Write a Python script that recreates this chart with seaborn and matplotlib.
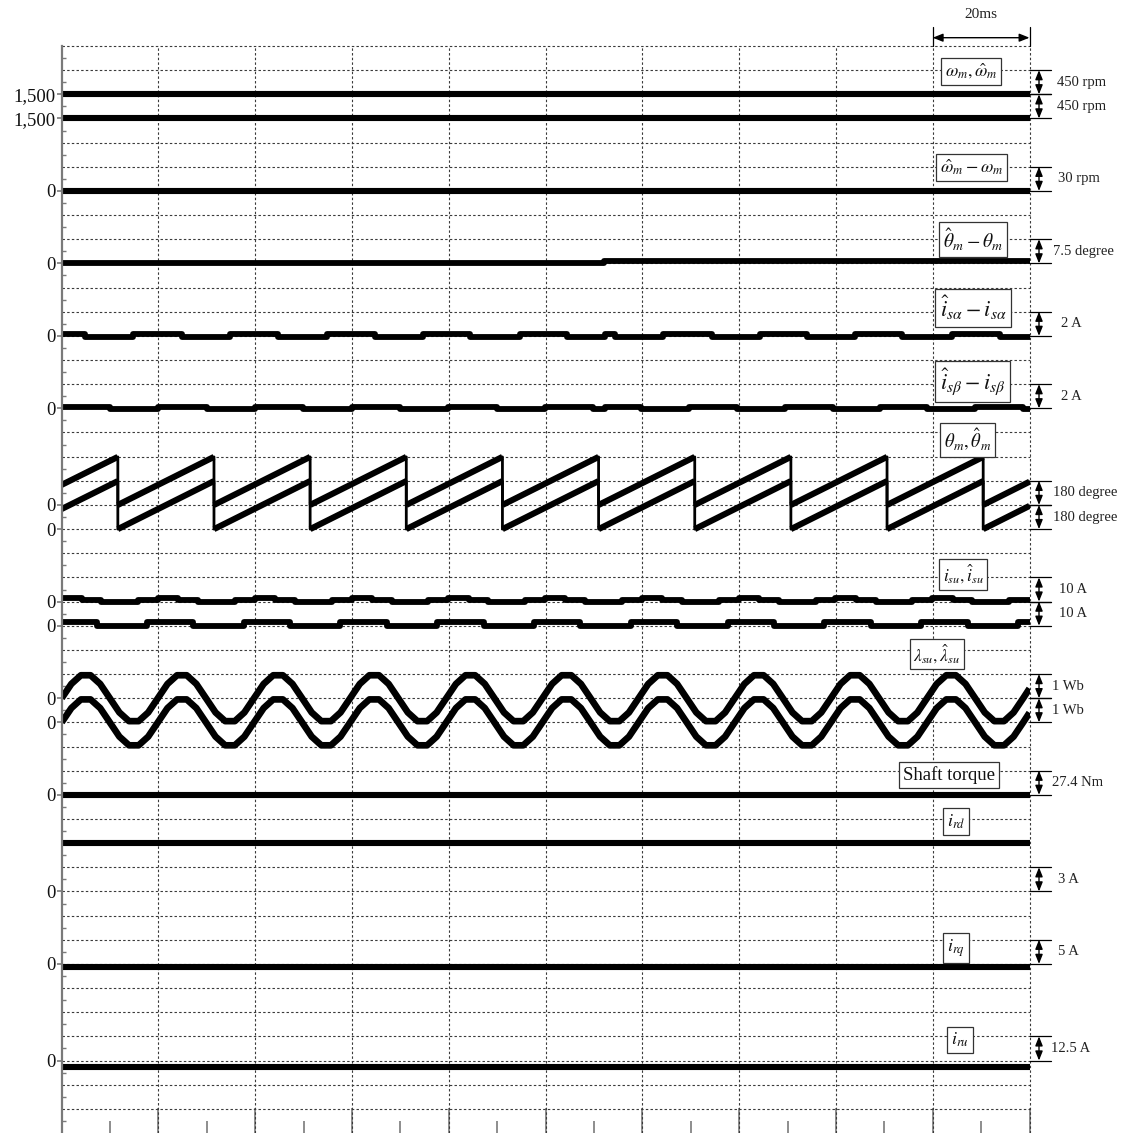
import numpy as np
import pandas as pd
import matplotlib
matplotlib.use("Agg")
import matplotlib.pyplot as plt
import seaborn as sns

# ---------------- data (time in ms) ----------------
t_flat = [0.0, 200.0]
omega_m = [1500.0, 1500.0]          # rpm
omega_m_hat = [1500.0, 1500.0]      # rpm
omega_err = [0.0, 0.0]              # rpm
theta_err_t = [0.0, 112.0, 200.0]
theta_err = [0.0, 0.6, 0.6]         # degree (step trace)

isa_err_t = [0.0, 4.8, 14.7, 24.9, 34.8, 44.7, 54.8, 64.7, 74.7, 84.4, 94.7, 104.4,
             112.3, 114.3, 124.3, 134.4, 144.3, 154.0, 164.0, 173.6, 184.0, 193.9, 200.0]
isa_err = [0.18, -0.08, 0.18, -0.08, 0.18, -0.08, 0.18, -0.08, 0.18, -0.08, 0.18, -0.08,
           0.18, -0.08, 0.18, -0.08, 0.18, -0.08, 0.18, -0.08, 0.18, -0.08, -0.08]   # A

isb_err_t = [0.0, 10.0, 19.9, 30.0, 39.9, 49.9, 60.0, 69.9, 79.8, 89.9, 99.9, 109.8,
             112.3, 119.8, 129.7, 139.6, 149.5, 159.4, 169.2, 178.8, 188.7, 198.7, 200.0]
isb_err = [0.14, -0.06, 0.14, -0.06, 0.14, -0.06, 0.14, -0.06, 0.14, -0.06, 0.14, -0.06,
           0.14, -0.06, 0.14, -0.06, 0.14, -0.06, 0.14, -0.06, 0.14, -0.06, -0.06]   # A

theta_t = [0.0, 11.60, 11.60, 31.47, 31.47, 51.34, 51.34, 71.21, 71.21, 91.08, 91.08,
           110.95, 110.95, 130.82, 130.82, 150.69, 150.69, 170.56, 170.56, 190.43, 190.43, 200.0]
theta_m = [150, 358, 0, 358, 0, 358, 0, 358, 0, 358, 0,
           358, 0, 358, 0, 358, 0, 358, 0, 358, 0, 173]          # degree
theta_m_hat = [150, 358, 0, 358, 0, 358, 0, 358, 0, 358, 0,
               358, 0, 358, 0, 358, 0, 358, 0, 358, 0, 173]      # degree

isu_t = [0.0, 4.1, 8.2, 15.8, 19.9, 24.1, 28.2, 35.8, 39.9, 44.1, 48.2, 55.8,
         59.9, 64.1, 68.2, 75.8, 79.9, 84.1, 88.2, 95.8, 99.9, 104.1, 108.2, 115.8,
         119.9, 124.1, 128.2, 135.8, 139.9, 144.1, 148.2, 155.8, 159.9, 164.1, 168.2,
         175.8, 179.9, 184.1, 188.2, 195.8, 200.0]
isu = [1.5, 0.6, -0.1, 0.6, 1.5, 0.6, -0.1, 0.6, 1.5, 0.6, -0.1, 0.6,
       1.5, 0.6, -0.1, 0.6, 1.5, 0.6, -0.1, 0.6, 1.5, 0.6, -0.1, 0.6,
       1.5, 0.6, -0.1, 0.6, 1.5, 0.6, -0.1, 0.6, 1.5, 0.6, -0.1,
       0.6, 1.5, 0.6, -0.1, 0.6, 0.6]                              # A
isu_hat_t = [0.0, 7.2, 17.6, 27.2, 37.6, 47.2, 57.6, 67.2, 77.6, 87.2, 97.6, 107.2,
             117.6, 127.2, 137.6, 147.2, 157.6, 167.2, 177.6, 187.2, 197.6, 200.0]
isu_hat = [1.4, 0.0, 1.4, 0.0, 1.4, 0.0, 1.4, 0.0, 1.4, 0.0, 1.4, 0.0,
           1.4, 0.0, 1.4, 0.0, 1.4, 0.0, 1.4, 0.0, 1.4, 1.4]        # A

lam_t = [0.00, 1.99, 3.97, 5.96, 7.95, 9.94, 11.92, 13.91, 15.90, 17.88,
         19.87, 21.86, 23.84, 25.83, 27.82, 29.81, 31.79, 33.78, 35.77, 37.75,
         39.74, 41.73, 43.71, 45.70, 47.69, 49.68, 51.66, 53.65, 55.64, 57.62,
         59.61, 61.60, 63.58, 65.57, 67.56, 69.55, 71.53, 73.52, 75.51, 77.49,
         79.48, 81.47, 83.45, 85.44, 87.43, 89.42, 91.40, 93.39, 95.38, 97.36,
         99.35, 101.34, 103.32, 105.31, 107.30, 109.29, 111.27, 113.26, 115.25, 117.23,
         119.22, 121.21, 123.19, 125.18, 127.17, 129.16, 131.14, 133.13, 135.12, 137.10,
         139.09, 141.08, 143.06, 145.05, 147.04, 149.03, 151.01, 153.00, 154.99, 156.97,
         158.96, 160.95, 162.93, 164.92, 166.91, 168.90, 170.88, 172.87, 174.86, 176.84,
         178.83, 180.82, 182.80, 184.79, 186.78, 188.77, 190.75, 192.74, 194.73, 196.71,
         198.70, 200.00]
lambda_su = [0.00, 0.59, 0.95, 0.95, 0.59, 0.00, -0.59, -0.95, -0.95, -0.59,
             0.00, 0.59, 0.95, 0.95, 0.59, 0.00, -0.59, -0.95, -0.95, -0.59,
             0.00, 0.59, 0.95, 0.95, 0.59, 0.00, -0.59, -0.95, -0.95, -0.59,
             0.00, 0.59, 0.95, 0.95, 0.59, 0.00, -0.59, -0.95, -0.95, -0.59,
             0.00, 0.59, 0.95, 0.95, 0.59, 0.00, -0.59, -0.95, -0.95, -0.59,
             0.00, 0.59, 0.95, 0.95, 0.59, 0.00, -0.59, -0.95, -0.95, -0.59,
             0.00, 0.59, 0.95, 0.95, 0.59, 0.00, -0.59, -0.95, -0.95, -0.59,
             0.00, 0.59, 0.95, 0.95, 0.59, 0.00, -0.59, -0.95, -0.95, -0.59,
             0.00, 0.59, 0.95, 0.95, 0.59, 0.00, -0.59, -0.95, -0.95, -0.59,
             0.00, 0.59, 0.95, 0.95, 0.59, 0.00, -0.59, -0.95, -0.95, -0.59,
             0.00, 0.40]                                            # Wb
lambda_su_hat = list(lambda_su)                                     # Wb (same shape)

torque = [0.0, 0.0]      # Nm
i_rd = [6.0, 6.0]        # A
i_rq = [-0.6, -0.6]      # A
i_ru = [-3.3, -3.3]      # A

ytick_labels = ["1,500", "1,500", "0", "0", "0", "0", "0", "0", "0", "0",
                "0", "0", "0", "0", "0", "0"]
scale_texts = ["450 rpm", "450 rpm", "30 rpm", "7.5 degree", "2 A", "2 A",
               "180 degree", "180 degree", "10 A", "10 A", "1 Wb", "1 Wb",
               "27.4 Nm", "3 A", "5 A", "12.5 A"]
box_labels = [r"$\omega_m,\hat{\omega}_m$", r"$\hat{\omega}_m-\omega_m$",
              r"$\hat{\theta}_m-\theta_m$", r"$\hat{i}_{s\alpha}-i_{s\alpha}$",
              r"$\hat{i}_{s\beta}-i_{s\beta}$", r"$\theta_m,\hat{\theta}_m$",
              r"$i_{su},\hat{i}_{su}$", r"$\lambda_{su},\hat{\lambda}_{su}$",
              "Shaft torque", r"$i_{rd}$", r"$i_{rq}$", r"$i_{ru}$"]
time_scale_text = "20ms"

# ---------------- style ----------------
sns.set_theme(style="white")
plt.rcParams["font.family"] = ["Liberation Serif", "DejaVu Serif"]
plt.rcParams["mathtext.fontset"] = "stix"

W, H = 1130, 1133
fig = plt.figure(figsize=(W / 100, H / 100), dpi=100)
PX_L, PX_R, PX_T, PX_B = 61.7, 1029.5, 46.0, 1133.0
T_MAX, N_DIV = 200.0, 45
ax = fig.add_axes([PX_L / W, 1 - PX_B / H, (PX_R - PX_L) / W, (PX_B - PX_T) / H])


def dx(px):
    return (px - PX_L) / (PX_R - PX_L) * T_MAX


def dy(py):
    return N_DIV - (py - PX_T) / (PX_B - PX_T) * N_DIV


GRID = dict(color="#3a3a3a", lw=0.8, ls=(0, (2.2, 2.0)), zorder=1)
for k in range(0, N_DIV):
    ax.axhline(N_DIV - k, clip_on=False, **GRID)
for x in range(20, 201, 20):
    ax.axvline(x, clip_on=False, **GRID)

# channels: (times, values, reference, units per division, grid row of reference, lw, drawstyle)
channels = [
    (t_flat, omega_m, 1500.0, 450.0, 2, 4.4, "default"),
    (t_flat, omega_m_hat, 1500.0, 450.0, 3, 4.4, "default"),
    (t_flat, omega_err, 0.0, 30.0, 6, 4.4, "default"),
    (theta_err_t, theta_err, 0.0, 7.5, 9, 4.2, "steps-post"),
    (isa_err_t, isa_err, 0.0, 2.0, 12, 4.2, "steps-post"),
    (isb_err_t, isb_err, 0.0, 2.0, 15, 4.2, "steps-post"),
    (isu_t, isu, 0.0, 10.0, 23, 4.2, "steps-post"),
    (isu_hat_t, isu_hat, 0.0, 10.0, 24, 4.2, "steps-post"),
    (lam_t, lambda_su, 0.0, 1.0, 27, 4.8, "default"),
    (lam_t, lambda_su_hat, 0.0, 1.0, 28, 4.8, "default"),
    (t_flat, torque, 0.0, 27.4, 31, 4.4, "default"),
    (t_flat, i_rd, 0.0, 3.0, 35, 4.4, "default"),
    (t_flat, i_rq, 0.0, 5.0, 38, 4.4, "default"),
    (t_flat, i_ru, 0.0, 12.5, 42, 4.4, "default"),
]
for tt, vv, ref, sc, row, lw, ds in channels:
    df = pd.DataFrame({"t": tt, "y": (N_DIV - row) + (np.asarray(vv, float) - ref) / sc})
    sns.lineplot(data=df, x="t", y="y", ax=ax, color="black", lw=lw, estimator=None,
                 sort=False, legend=False, drawstyle=ds, solid_capstyle="butt", zorder=3)

# sawtooth angles: thin verticals, thick ramps
for vv, row in [(theta_m, 19), (theta_m_hat, 20)]:
    yv = (N_DIV - row) + np.asarray(vv, float) / 180.0
    df = pd.DataFrame({"t": theta_t, "y": yv})
    sns.lineplot(data=df, x="t", y="y", ax=ax, color="black", lw=2.0, estimator=None,
                 sort=False, legend=False, zorder=3)
    rx, ry = [], []
    for i in range(len(theta_t) - 1):
        if theta_t[i + 1] > theta_t[i]:
            rx += [theta_t[i], theta_t[i + 1], np.nan]
            ry += [yv[i], yv[i + 1], np.nan]
    ax.plot(rx, ry, color="black", lw=4.4, solid_capstyle="butt", zorder=3)

ax.set_xlabel("")
ax.set_ylabel("")
ax.set_xlim(0, T_MAX)
ax.set_ylim(0, N_DIV)

# axes / ticks
for s in ["top", "right", "bottom"]:
    ax.spines[s].set_visible(False)
ax.spines["left"].set_color("#7a7a7a")
ax.spines["left"].set_linewidth(1.6)
ax.spines["left"].set_zorder(4)

ytick_rows = [2, 3, 6, 9, 12, 15, 19, 20, 23, 24, 27, 28, 31, 35, 38, 42]
ax.set_yticks([N_DIV - r for r in ytick_rows])
ax.set_yticklabels(ytick_labels)
ax.set_yticks([N_DIV - k - 0.5 for k in range(N_DIV)], minor=True)
ax.tick_params(axis="y", which="both", left=True, right=False)
ax.tick_params(axis="y", which="major", direction="out", length=3.5, width=1.2,
               color="#7a7a7a", labelsize=13.5, pad=1, labelcolor="#111111")
ax.tick_params(axis="y", which="minor", direction="in", length=3.2, width=1.0, color="#7a7a7a")
ax.set_xticks(list(range(0, 201, 20)))
ax.set_xticks(list(range(10, 200, 20)), minor=True)
ax.tick_params(axis="x", which="both", bottom=True, top=False, labelbottom=False)
ax.tick_params(axis="x", which="major", direction="in", length=18, width=1.2, color="#7a7a7a")
ax.tick_params(axis="x", which="minor", direction="in", length=9, width=1.2, color="#7a7a7a")

# right-side scale markers
scale_rows = [(1, 2), (2, 3), (5, 6), (8, 9), (11, 12), (14, 15), (18, 19), (19, 20),
              (22, 23), (23, 24), (26, 27), (27, 28), (30, 31), (34, 35), (37, 38), (41, 42)]
text_px = [1057, 1057, 1058, 1053, 1061, 1061, 1053, 1053, 1059, 1059, 1052, 1052,
           1052, 1058, 1058, 1051]
xa = dx(1039)
ARW = "<|-|>,head_length=0.55,head_width=0.22"
for (k1, k2), txt, tpx in zip(scale_rows, scale_texts, text_px):
    y1, y2 = N_DIV - k1, N_DIV - k2
    for yy in (y1, y2):
        ax.plot([T_MAX, dx(1051)], [yy, yy], color="black", lw=0.9, clip_on=False, zorder=5)
    ax.annotate("", xy=(xa, y1), xytext=(xa, y2),
                arrowprops=dict(arrowstyle=ARW, color="black", lw=1.0, shrinkA=0, shrinkB=0,
                                mutation_scale=10),
                annotation_clip=False)
    ax.text(dx(tpx), (y1 + y2) / 2, txt, ha="left", va="center", fontsize=10.5,
            color="#222222", clip_on=False)

# time scale marker at top
ya = dy(37.7)
for xx in (180, 200):
    ax.plot([xx, xx], [N_DIV, dy(27)], color="black", lw=0.9, clip_on=False, zorder=5)
ax.annotate("", xy=(180, ya), xytext=(200, ya),
            arrowprops=dict(arrowstyle=ARW, color="black", lw=1.0, shrinkA=0, shrinkB=0,
                            mutation_scale=11),
            annotation_clip=False)
ax.text(190, dy(15), time_scale_text, ha="center", va="center", fontsize=11, color="#222222")

# signal name boxes
box_px = [(971, 71.5), (971.5, 167.5), (973, 239.5), (973, 308), (972.5, 381.5),
          (967.5, 440), (963, 574.5), (937, 654), (948.7, 775), (956, 821.5),
          (956, 948), (960, 1039.7)]
box_fs = [13, 13, 14, 16, 16, 13.5, 12.5, 12.5, 13.5, 13, 13, 13]
for lab, (cx, cy), fs in zip(box_labels, box_px, box_fs):
    ax.text(dx(cx), dy(cy), lab, ha="center", va="center", fontsize=fs, color="#111111",
            zorder=6, bbox=dict(boxstyle="square,pad=0.22", fc="white", ec="#333333", lw=0.9))

fig.savefig("out.png", dpi=100)
